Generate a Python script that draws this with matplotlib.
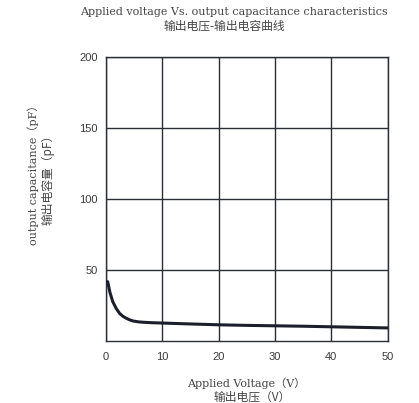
import matplotlib
matplotlib.use('Agg')
import matplotlib.pyplot as plt

# values
voltage = [0.3, 0.7, 1.2, 1.8, 2.4, 3.0, 3.6, 4.2, 4.8, 5.7, 6.6, 8.0, 9.5, 15, 20, 25, 30, 35, 40, 45, 50]
capacitance = [41.6, 34.0, 27.5, 22.8, 19.3, 17.2, 15.8, 14.7, 13.9, 13.3, 13.0, 12.7, 12.5, 11.8, 11.2, 10.8, 10.5, 10.2, 9.8, 9.4, 9.0]

x_ticks = [0, 10, 20, 30, 40, 50]
y_ticks = [50, 100, 150, 200]

title_en = 'Applied voltage Vs. output capacitance characteristics'
title_cn = '输出电压-输出电容曲线'
xlabel_en = 'Applied Voltage（V）'
xlabel_cn = '输出电压（V）'
ylabel_en = 'output capacitance（pF）'
ylabel_cn = '输出电容量（pF）'

serif = ['DejaVu Serif', 'Noto Sans CJK SC']
cjk = ['Noto Sans CJK SC', 'DejaVu Sans']
txt_color = '#444444'
grid_color = '#2b2e35'

fig = plt.figure(figsize=(4.19, 4.03), dpi=100)
ax = fig.add_axes([0.2530, 0.1546, 0.6723, 0.7040])

ax.plot(voltage, capacitance, color='#1c1f2a', lw=2.2, solid_capstyle='round', zorder=3)

ax.set_xlim(0, 50)
ax.set_ylim(0, 200)
ax.set_xticks(x_ticks)
ax.set_yticks(y_ticks)
ax.grid(True, color=grid_color, lw=1.0)
for s in ax.spines.values():
    s.set_color(grid_color)
    s.set_linewidth(1.0)
ax.tick_params(length=0, labelsize=8, labelcolor='#3a3a3a')
ax.tick_params(axis='x', pad=8)
ax.tick_params(axis='y', pad=6)
for lab in ax.get_xticklabels() + ax.get_yticklabels():
    lab.set_family('Liberation Sans')

fig.text(0.5585, 0.970, title_en, ha='center', va='center', fontsize=8.0, family=serif, color=txt_color)
fig.text(0.5346, 0.9355, title_cn, ha='center', va='center', fontsize=8.5, family=cjk, color=txt_color)
fig.text(0.5888, 0.0496, xlabel_en, ha='center', va='center', fontsize=8.0, family=serif, color=txt_color)
fig.text(0.6026, 0.0156, xlabel_cn, ha='center', va='center', fontsize=8.5, family=cjk, color=txt_color)
fig.text(0.079, 0.572, ylabel_en, ha='center', va='center', rotation=90, fontsize=8.0, family=serif, color=txt_color)
fig.text(0.1146, 0.561, ylabel_cn, ha='center', va='center', rotation=90, fontsize=8.5, family=cjk, color=txt_color)

fig.savefig('out.png', dpi=100, facecolor='white')
